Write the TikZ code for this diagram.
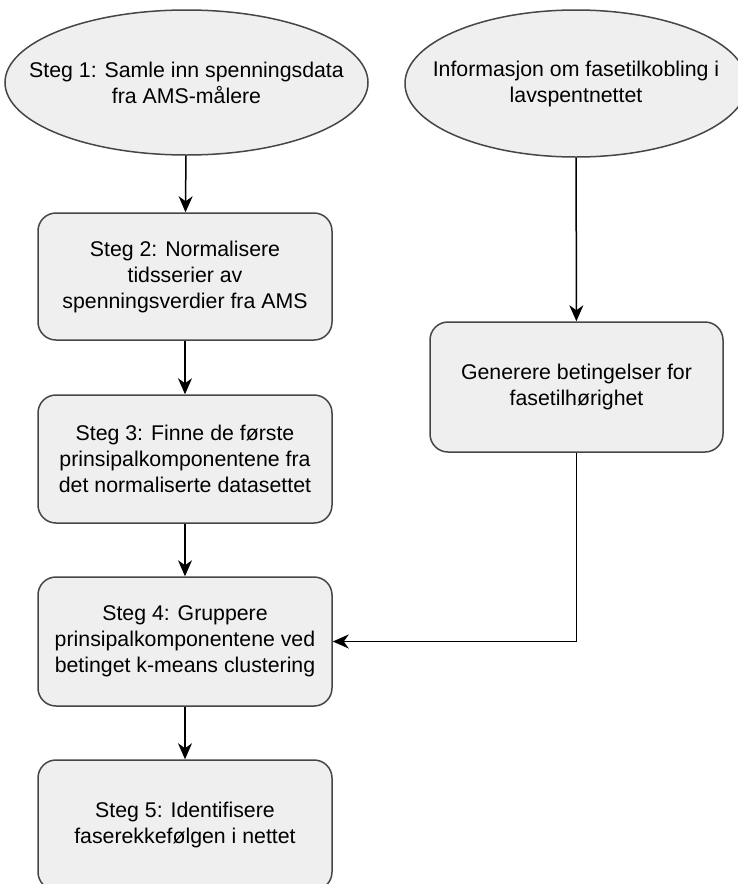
\documentclass[tikz,border=0pt]{standalone}
\usepackage{fontspec}
\setmainfont{Liberation Sans}
\usetikzlibrary{shapes.geometric,arrows.meta}
\definecolor{shapefill}{RGB}{239,239,239}
\definecolor{shapeline}{RGB}{70,70,70}
\begin{document}
\begin{tikzpicture}[x=1pt,y=-1pt,
  every node/.style={font=\fontsize{21.3}{26}\selectfont, align=center, inner sep=0pt},
  oval/.style={ellipse, draw=shapeline, fill=shapefill, line width=1.5pt},
  stepbox/.style={rectangle, rounded corners=18pt, draw=shapeline, fill=shapefill,
    line width=1.5pt, minimum width=294pt},
  flow/.style={draw=black, line width=1.5pt,
    -{Stealth[length=16pt, width=14pt, inset=5pt]}}]
  % page area
  \fill[white] (0,0) rectangle (737,884);
  \useasboundingbox (0,0) rectangle (737,884);

  % input shapes (outline first, then the text on top)
  \node[oval, minimum width=363pt, minimum height=145pt] (e1) at (186.5,82.5) {};
  \node (t1) at (e1.center) {Steg 1: Samle inn spenningsdata\\fra AMS-målere};
  \node[oval, minimum width=342pt, minimum height=147pt] (e2) at (576,83.5) {};
  \node (t2) at (e2.center) {Informasjon om fasetilkobling i\\lavspentnettet};

  % processing steps
  \node[stepbox, minimum height=127pt] (b2) at (185,276.5)
    {Steg 2: Normalisere\\tidsserier av\\spenningsverdier fra AMS};
  \node[stepbox, minimum height=128pt] (b3) at (185,459)
    {Steg 3: Finne de første\\prinsipalkomponentene fra\\det normaliserte datasettet};
  \node[stepbox, minimum height=129pt] (b4) at (185,641.5)
    {Steg 4: Gruppere\\prinsipalkomponentene ved\\betinget k-means clustering};
  \node[stepbox, minimum height=130pt] (b5) at (185,825)
    {Steg 5: Identifisere\\faserekkefølgen i nettet};
  \node[stepbox, minimum width=293pt, minimum height=130pt] (bR) at (576.5,387)
    {Generere betingelser for\\fasetilhørighet};

  % connectors
  \draw[flow] (e1) -- (b2);
  \draw[flow] (b2) -- (b3);
  \draw[flow] (b3) -- (b4);
  \draw[flow] (b4) -- (b5);
  \draw[flow] (e2) -- (bR);
  \draw[flow] (bR.south) |- (b4.east);
\end{tikzpicture}
\end{document}
